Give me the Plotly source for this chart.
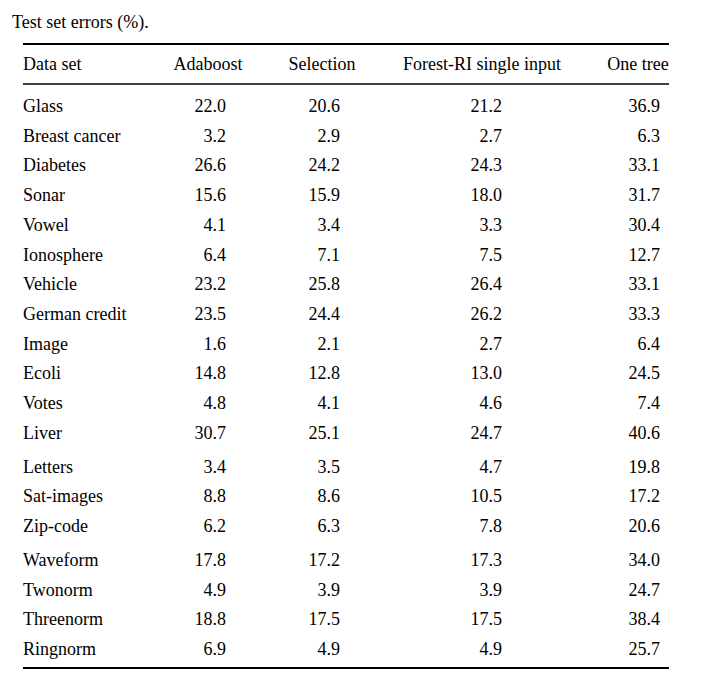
import plotly.graph_objects as go

caption = "Test set errors (%)."
columns = ["Data set", "Adaboost", "Selection", "Forest-RI single input", "One tree"]
datasets = ["Glass", "Breast cancer", "Diabetes", "Sonar", "Vowel", "Ionosphere",
            "Vehicle", "German credit", "Image", "Ecoli", "Votes", "Liver",
            "Letters", "Sat-images", "Zip-code",
            "Waveform", "Twonorm", "Threenorm", "Ringnorm"]
groups = [0] * 12 + [1] * 3 + [2] * 4
adaboost = [22.0, 3.2, 26.6, 15.6, 4.1, 6.4, 23.2, 23.5, 1.6, 14.8, 4.8, 30.7,
            3.4, 8.8, 6.2, 17.8, 4.9, 18.8, 6.9]
selection = [20.6, 2.9, 24.2, 15.9, 3.4, 7.1, 25.8, 24.4, 2.1, 12.8, 4.1, 25.1,
             3.5, 8.6, 6.3, 17.2, 3.9, 17.5, 4.9]
forest_ri = [21.2, 2.7, 24.3, 18.0, 3.3, 7.5, 26.4, 26.2, 2.7, 13.0, 4.6, 24.7,
             4.7, 10.5, 7.8, 17.3, 3.9, 17.5, 4.9]
one_tree = [36.9, 6.3, 33.1, 31.7, 30.4, 12.7, 33.1, 33.3, 6.4, 24.5, 7.4, 40.6,
            19.8, 17.2, 20.6, 34.0, 24.7, 38.4, 25.7]

# ---- layout (page-pixel coordinates; page body has an 8px margin) ----
W, H = 708, 691
OFF = 8
FONT = "Liberation Serif, Times New Roman, serif"
FS = 18
row0, row_step, group_gap = 107.5, 29.7, 4.2
row_y = [row0 + i * row_step + g * group_gap for i, g in enumerate(groups)]
header_y = 65.5
caption_y = 23.5
label_x = 23
num_right = [226, 340, 502, 660]
header_center = [208, 322, 482, 638]
rule_left, rule_right = 23, 669

fig = go.Figure()


def text_trace(xs, ys, texts, pos):
    return go.Scatter(x=xs, y=ys, text=texts, mode="text", textposition=pos,
                      textfont=dict(family=FONT, size=FS, color="black"),
                      hoverinfo="skip", showlegend=False)


fig.add_trace(text_trace([12], [caption_y], [caption], "middle right"))
fig.add_trace(text_trace([label_x], [header_y], [columns[0]], "middle right"))
fig.add_trace(text_trace(header_center, [header_y] * 4, columns[1:], "middle center"))
fig.add_trace(text_trace([label_x] * len(datasets), row_y, datasets, "middle right"))
for xr, vals in zip(num_right, [adaboost, selection, forest_ri, one_tree]):
    fig.add_trace(text_trace([xr] * len(vals), row_y,
                             [f"{v:.1f}" for v in vals], "middle left"))

# booktabs-style rules
for y, w in [(44, 2), (84, 1.6), (668, 2)]:
    fig.add_shape(type="line", xref="x", yref="y", x0=rule_left, x1=rule_right,
                  y0=y, y1=y, line=dict(color="black", width=w))

fig.update_layout(
    width=W, height=H,
    margin=dict(l=0, r=0, t=0, b=0),
    paper_bgcolor="white", plot_bgcolor="white",
    xaxis=dict(range=[OFF, W + OFF], visible=False, fixedrange=True),
    yaxis=dict(range=[H + OFF, OFF], visible=False, fixedrange=True),
    showlegend=False,
)

fig.write_html("out.html")
